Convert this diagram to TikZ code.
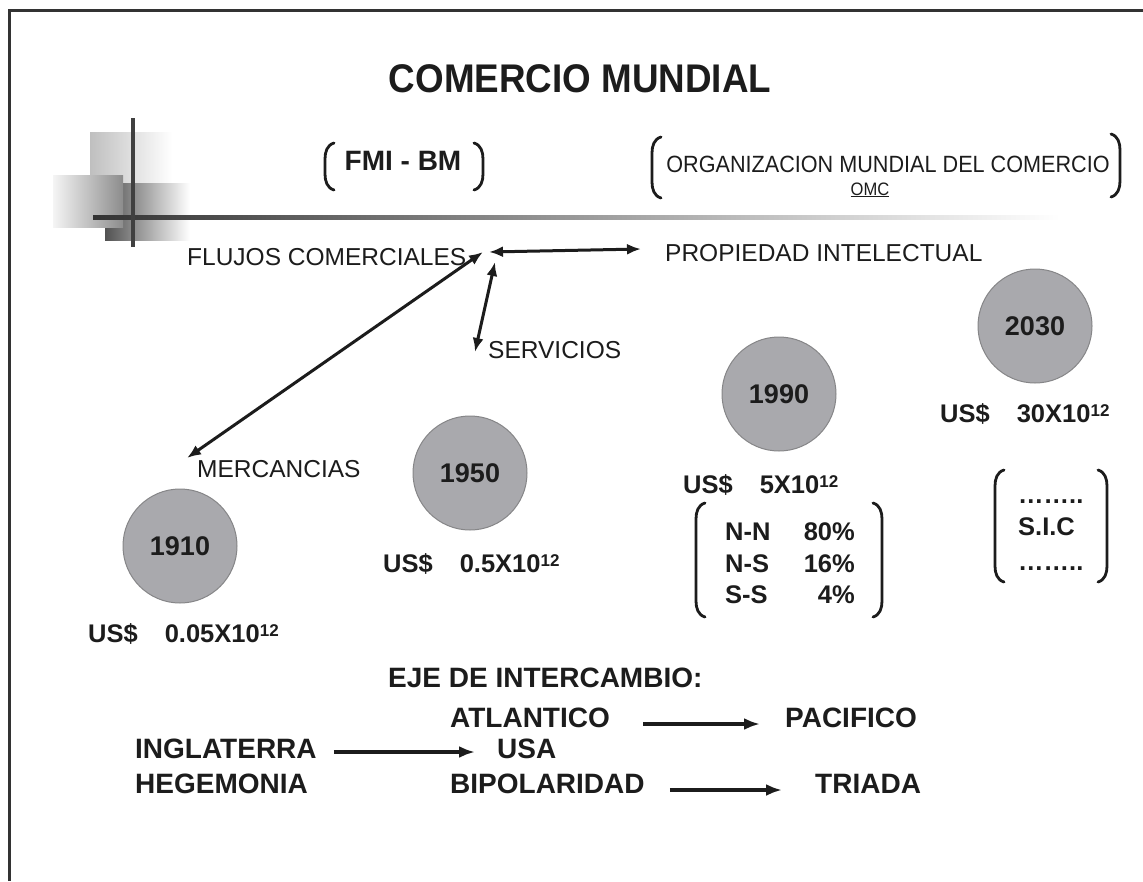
\documentclass[tikz,border=0pt]{standalone}
\usepackage{fontspec}
\setmainfont{Liberation Sans}
\newfontfamily\narrowf[FakeStretch=0.92]{Liberation Sans}
\usetikzlibrary{arrows.meta}
\definecolor{ink}{HTML}{1C1C1C}
\definecolor{circ}{HTML}{A9A9AD}
\definecolor{circd}{HTML}{868688}
\newcommand{\fs}[1]{\fontsize{#1}{#1}\selectfont}
\newcommand{\supx}[1]{\raisebox{6pt}{\fs{17}#1}}
\newcommand{\lbrk}[3]{\draw[brk] (#1+9,#2) .. controls (#1+2,#2+2) and (#1,#2+9) .. (#1,#2+16) -- (#1,#3-16) .. controls (#1,#3-9) and (#1+2,#3-2) .. (#1+9,#3);}
\newcommand{\rbrk}[3]{\draw[brk] (#1-9,#2) .. controls (#1-2,#2+2) and (#1,#2+9) .. (#1,#2+16) -- (#1,#3-16) .. controls (#1,#3-9) and (#1-2,#3-2) .. (#1-9,#3);}
\begin{document}
\begin{tikzpicture}[x=1pt,y=-1pt,
  lbl/.style={inner sep=0, anchor=base west, text=ink},
  reg/.style={lbl, font=\fs{24.5}},
  bld/.style={lbl, font=\fs{28}\bfseries},
  usd/.style={lbl, font=\fs{25.5}\bfseries},
  yr/.style={circle, minimum size=114, fill=circ, draw=circd, line width=1, inner sep=0, font=\fs{27}\bfseries, text=ink},
  brk/.style={line width=2.8, draw=ink, line cap=round},
  dbl/.style={line width=3, draw=ink, {Latex[length=14,width=11]}-{Latex[length=14,width=11]}},
  one/.style={line width=4, draw=ink, -{Latex[length=16,width=12]}}]
\useasboundingbox[fill=white] (0,0) rectangle (1143,881);
% frame
\draw[line width=3, black!80] (9,881) -- (9,10) -- (1143,10);
% decoration
\shade[left color=black!25, middle color=black!20, right color=white] (90,132) rectangle (172,183);
\shade[left color=black!68, middle color=black!55, right color=white] (105,183) rectangle (190,240);
\shade[left color=black!4, right color=black!45] (53,175) rectangle (123,227);
\shade[left color=black!80, middle color=black!50, right color=white] (93,215.5) rectangle (1060,219.5);
\draw[line width=4, black!75] (133,118) -- (133,247);
% title
\node[font=\narrowf\fs{40}\bfseries, inner sep=0, anchor=base, text=ink] (title) at (580,92) {COMERCIO MUNDIAL};
% header
\node[font=\fs{28}\bfseries, inner sep=0, anchor=base, text=ink] (fmi) at (403,170) {FMI - BM};
\lbrk{325}{143}{190}
\rbrk{483}{143}{190}
\node[font=\narrowf\fs{23.5}, inner sep=0, anchor=base, text=ink] (omg) at (888,172) {ORGANIZACION MUNDIAL DEL COMERCIO};
\node[font=\narrowf\fs{18}, inner sep=0, anchor=base, text=ink] (omc) at (870,195) {\underline{OMC}};
\lbrk{652}{137}{198}
\rbrk{1120}{134}{197}
% flows
\node[reg] (flujos) at (187,265) {FLUJOS COMERCIALES};
\node[reg] (prop) at (665,261) {PROPIEDAD INTELECTUAL};
\node[reg] (serv) at (488,358) {SERVICIOS};
\node[reg] (merc) at (197,477) {MERCANCIAS};
\coordinate (hubA) at (483,252);
\coordinate (hubB) at (489,252);
\coordinate (hubC) at (495,262);
\coordinate (endM) at (187,458);
\coordinate (endP) at (641,249);
\coordinate (endS) at (475,352);
\draw[dbl] (endM) -- (hubA);
\draw[dbl] (hubB) -- (endP);
\draw[dbl] (hubC) -- (endS);
% years
\node[yr] (y1910) at (180,546) {1910};
\node[yr] (y1950) at (470,473) {1950};
\node[yr] (y1990) at (779,394) {1990};
\node[yr] (y2030) at (1035,326) {2030};
\node[usd] (u1910) at (88,642) {US\$\hspace{27pt}0.05X10\supx{12}};
\node[usd] (u1950) at (383,572) {US\$\hspace{27pt}0.5X10\supx{12}};
\node[usd] (u1990) at (683,493) {US\$\hspace{27pt}5X10\supx{12}};
\node[usd] (u2030) at (940,422) {US\$\hspace{27pt}30X10\supx{12}};
% 1990 shares
\lbrk{696}{503}{617}
\rbrk{882}{503}{617}
\node[usd] (nn) at (725,540) {N-N};
\node[usd] (ns) at (725,572) {N-S};
\node[usd] (ss) at (725,603) {S-S};
\node[usd, anchor=base east] (p80) at (855,540) {80\%};
\node[usd, anchor=base east] (p16) at (855,572) {16\%};
\node[usd, anchor=base east] (p4) at (855,603) {4\%};
% SIC
\lbrk{995}{470}{582}
\rbrk{1107}{470}{582}
\node[usd] (dots1) at (1018,503) {……..};
\node[usd] (sic) at (1018,535) {S.I.C};
\node[usd] (dots2) at (1018,570) {……..};
% bottom
\node[bld] (eje) at (388,687) {EJE DE INTERCAMBIO:};
\node[bld] (atl) at (450,727) {ATLANTICO};
\node[bld] (pac) at (785,727) {PACIFICO};
\node[bld] (ing) at (135,758) {INGLATERRA};
\node[bld] (usa) at (497,758) {USA};
\node[bld] (heg) at (135,793) {HEGEMONIA};
\node[bld] (bip) at (450,793) {BIPOLARIDAD};
\node[bld] (tri) at (815,793) {TRIADA};
\draw[one] ([xshift=33pt,yshift=3pt]atl.base east) -- ([xshift=-25pt,yshift=3pt]pac.base west);
\draw[one] ([xshift=17pt,yshift=6pt]ing.base east) -- ([xshift=-22pt,yshift=6pt]usa.base west);
\draw[one] ([xshift=25pt,yshift=3pt]bip.base east) -- ([xshift=-33pt,yshift=3pt]tri.base west);
\end{tikzpicture}
\end{document}
